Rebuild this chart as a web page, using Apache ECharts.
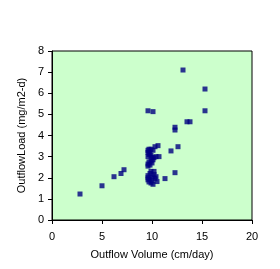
<!DOCTYPE html>
<html>
<head>
<meta charset="utf-8">
<script src="https://cdn.jsdelivr.net/npm/echarts@6/dist/echarts.min.js"></script>
<style>html,body{margin:0;padding:0;background:#fff}#c{width:280px;height:269px}</style>
</head>
<body>
<div id="c"></div>
<script>
var xTitle = "Outflow Volume (cm/day)";
var yTitle = "OutflowLoad (mg/m2-d)";
var outflowVolume = [2.8, 5.0, 6.2, 6.9, 7.2, 9.6, 10.1, 13.1, 15.3, 15.3, 13.5, 13.8, 12.3, 12.3, 11.9, 12.6, 12.3, 11.3,
  10.3, 10.6,
  9.6, 9.7, 9.9, 10.1, 9.6, 9.7, 9.6, 9.8, 9.9,
  10.0, 10.2, 10.4, 10.7, 10.1, 9.9,
  9.7, 9.6, 9.6, 9.8, 10.0,
  9.9, 10.2, 9.8, 9.6, 9.6, 9.6, 9.7, 9.9, 10.0, 10.2, 10.3, 10.4, 10.5, 10.1, 9.8, 10.0];
var outflowLoad = [1.23, 1.62, 2.05, 2.2, 2.38, 5.17, 5.13, 7.1, 6.2, 5.17, 4.65, 4.65, 4.39, 4.26, 3.27, 3.47, 2.24, 1.96,
  3.47, 3.52,
  3.3, 3.35, 3.35, 3.3, 3.2, 3.1, 3.0, 3.15, 3.05,
  2.95, 2.95, 3.0, 3.0, 2.85, 2.8,
  2.75, 2.65, 2.55, 2.6, 2.7,
  2.3, 2.3, 2.2, 2.1, 2.0, 1.9, 1.8, 1.75, 2.05, 2.15, 1.95, 2.05, 1.82, 1.69, 1.95, 1.85];

var pts = outflowVolume.map(function (v, i) { return [v, outflowLoad[i]]; });
var font = 'Liberation Sans, Arial, sans-serif';
var chart = echarts.init(document.getElementById('c'), null, {renderer: 'canvas'});
chart.setOption({
  animation: false,
  backgroundColor: '#ffffff',
  grid: {left: 52, right: 28, top: 51, bottom: 49, show: true, backgroundColor: '#CCFFCC', borderColor: '#000', borderWidth: 1},
  xAxis: {
    type: 'value', min: 0, max: 20, interval: 5,
    name: xTitle, nameLocation: 'middle', nameGap: 29,
    nameTextStyle: {fontFamily: font, fontSize: 11, color: '#000'},
    axisLine: {show: true, onZero: false, lineStyle: {color: '#000', width: 1}},
    axisTick: {show: true, inside: false, length: 4, lineStyle: {color: '#000'}},
    axisLabel: {fontFamily: font, fontSize: 11, color: '#000', margin: 11},
    splitLine: {show: false}
  },
  yAxis: {
    type: 'value', min: 0, max: 8, interval: 1,
    name: yTitle, nameLocation: 'middle', nameGap: 21,
    nameTextStyle: {fontFamily: font, fontSize: 11, color: '#000'},
    axisLine: {show: true, onZero: false, lineStyle: {color: '#000', width: 1}},
    axisTick: {show: true, inside: false, length: 4, lineStyle: {color: '#000'}},
    axisLabel: {fontFamily: font, fontSize: 11, color: '#000', margin: 8},
    splitLine: {show: false}
  },
  series: [{
    type: 'scatter', data: pts, symbol: 'rect', symbolSize: 5,
    itemStyle: {color: '#000080'}
  }]
});
</script>
</body>
</html>
